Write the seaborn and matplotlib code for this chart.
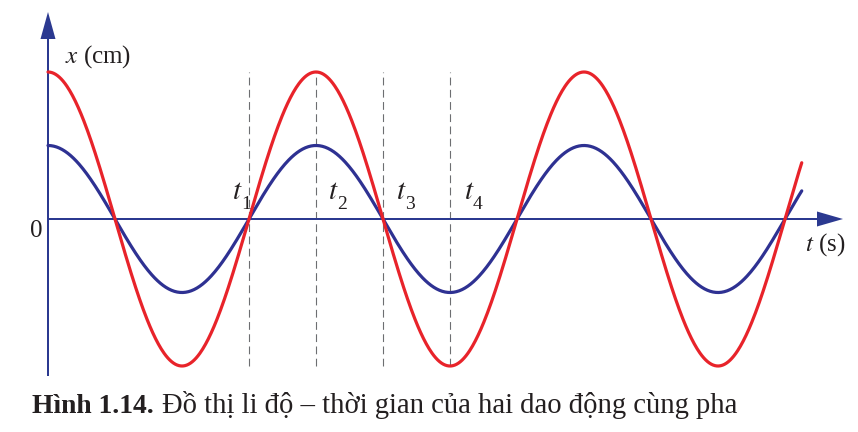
import numpy as np
import pandas as pd
import matplotlib
matplotlib.use("Agg")
import matplotlib.pyplot as plt
import seaborn as sns

# --- Data ---
AMPLITUDES = {"red": 4.0, "blue": 2.0}   # cm, same phase
PERIOD = 4.0                              # s
T_END = 11.25                             # where curves stop
MARK_TIMES = [3.0, 4.0, 5.0, 6.0]         # t1..t4
MARK_SUBS = ["1", "2", "3", "4"]
CAPTION_BOLD = "Hình 1.14."
CAPTION_TEXT = "Đồ thị li độ – thời gian của hai dao động cùng pha"

RED = "#E8232A"
BLUE = "#2E3192"
AXIS = "#2B3990"
GREY = "#6D6E71"
INK = "#231F20"

# pixel scale of the reference: 67 px per second, 36.75 px per cm
PX_T, PX_X = 67.0, 36.75
X0_PX, Y0_PX = 48, 219
W, H = 858, 432


def create_chart():
    sns.set_theme(style="white")
    plt.rcParams["font.family"] = ["Liberation Serif", "DejaVu Serif"]
    plt.rcParams["mathtext.fontset"] = "stix"

    t = np.linspace(0, T_END, 800)
    frames = []
    for name in ["blue", "red"]:
        frames.append(pd.DataFrame({
            "t": t,
            "x": AMPLITUDES[name] * np.cos(2 * np.pi * t / PERIOD),
            "wave": name,
        }))
    df = pd.concat(frames, ignore_index=True)

    fig = plt.figure(figsize=(W / 100, H / 100), dpi=100)
    ax = fig.add_axes([0, 0, 1, 1])
    ax.set_xlim(-X0_PX / PX_T, (W - X0_PX) / PX_T)
    ax.set_ylim(-(H - Y0_PX) / PX_X, Y0_PX / PX_X)
    ax.axis("off")

    # dashed guides from crest to trough of the red wave
    a_max = max(AMPLITUDES.values())
    ax.vlines(MARK_TIMES, -a_max, a_max, colors=GREY, linewidth=0.8,
              linestyles=(0, (7, 4)), zorder=1)

    # axes with arrow heads
    y_top = (Y0_PX - 12) / PX_X
    y_bot = -(376 - Y0_PX) / PX_X
    ax.arrow(0, y_bot, 0, y_top - y_bot, width=2 / PX_T, head_width=15 / PX_T,
             head_length=27 / PX_X, length_includes_head=True,
             color=AXIS, linewidth=0, zorder=2)
    x_tip = (843 - X0_PX) / PX_T
    ax.arrow(0, 0, x_tip, 0, width=2 / PX_X, head_width=15 / PX_X,
             head_length=26 / PX_T, length_includes_head=True,
             color=AXIS, linewidth=0, zorder=2)

    sns.lineplot(data=df, x="t", y="x", hue="wave",
                 palette={"red": RED, "blue": BLUE}, linewidth=2.3,
                 legend=False, ax=ax, zorder=3, sort=False)

    # axis labels
    ax.text(17 / PX_T, (Y0_PX - 57) / PX_X, "$x$ (cm)", fontsize=18,
            ha="left", va="center", color=INK)
    ax.text(-12 / PX_T, -(231 - Y0_PX) / PX_X, "0", fontsize=18,
            ha="center", va="center", color=INK)
    ax.text((805 - X0_PX) / PX_T, -(245 - Y0_PX) / PX_X, "$t$ (s)",
            fontsize=18, ha="left", va="center", color=INK)

    # t1..t4 labels: italic t with a large, low subscript
    base_t = (Y0_PX - 199) / PX_X
    base_sub = (Y0_PX - 209) / PX_X
    for i, (tm, sub) in enumerate(zip(MARK_TIMES, MARK_SUBS)):
        off = -17 if i == 0 else 11 + i
        left = tm + off / PX_T
        ax.text(left, base_t, "$t$", fontsize=21, ha="left", va="baseline",
                color=INK)
        ax.text(left + 9 / PX_T, base_sub, sub, fontsize=14, ha="left",
                va="baseline", color=INK)

    # caption: bold figure number, then regular text
    renderer = fig.canvas.get_renderer()
    cy = 1 - 413 / H
    tb = fig.text(32 / W, cy, CAPTION_BOLD, fontsize=19.8, fontweight="bold",
                  ha="left", va="baseline", color=INK)
    bb = tb.get_window_extent(renderer)
    fig.text((bb.x1 + 8) / W, cy, CAPTION_TEXT, fontsize=20.6,
             ha="left", va="baseline", color=INK)

    fig.savefig("out.png", dpi=100)
    plt.close(fig)


if __name__ == "__main__":
    create_chart()
